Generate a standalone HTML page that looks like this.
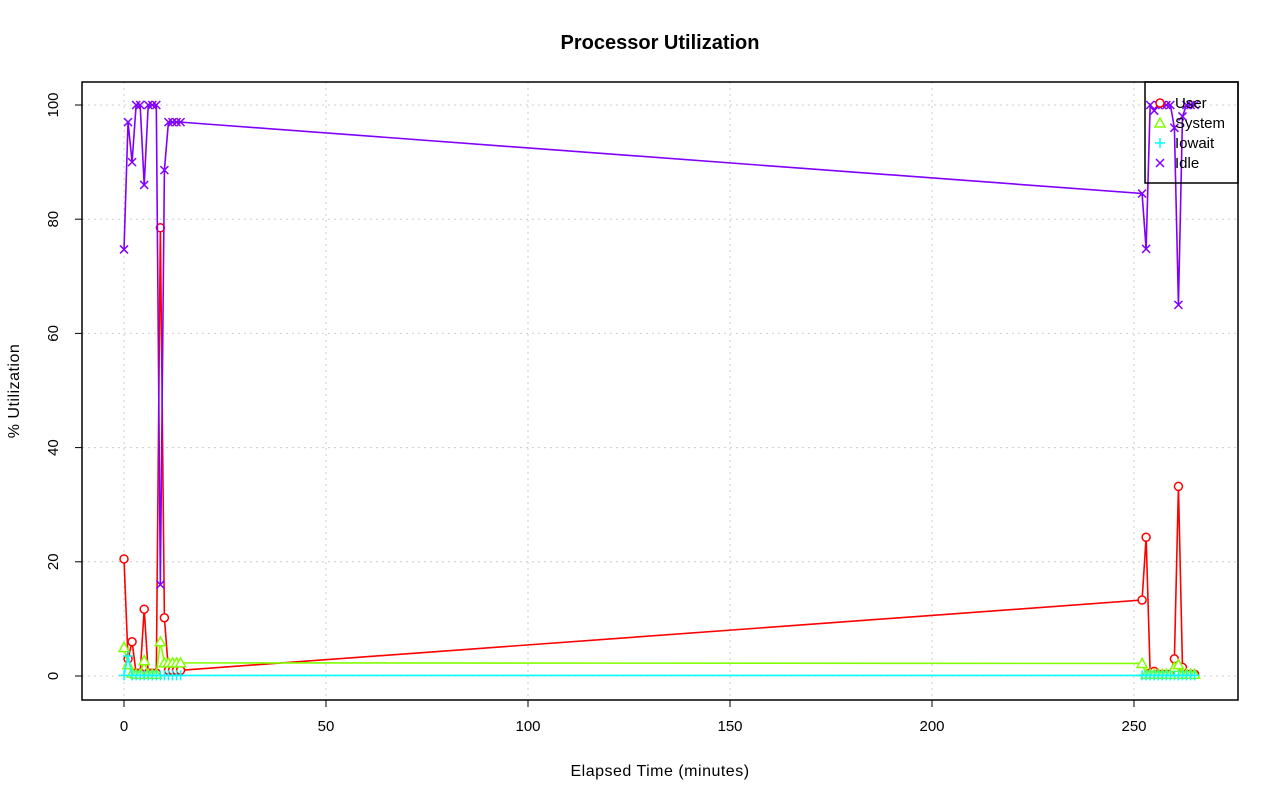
<!DOCTYPE html>
<html><head><style>body{margin:0;background:#fff}svg{display:block;font-family:"Liberation Sans",sans-serif}</style></head>
<body>
<svg id="s" width="1280" height="801" xmlns="http://www.w3.org/2000/svg">
<rect width="1280" height="801" fill="#fff"/>
<text x="660" y="49" font-size="20" font-weight="bold" text-anchor="middle">Processor Utilization</text>
<text x="660" y="776" font-size="16" letter-spacing="0.5" text-anchor="middle">Elapsed Time (minutes)</text>
<text transform="translate(19,391) rotate(-90)" font-size="16" letter-spacing="0.5" text-anchor="middle">% Utilization</text>
<g id="g"></g>
<rect x="82" y="82" width="1156" height="618" fill="none" stroke="#000" stroke-width="1.5"/>
</svg>
<script>
var ns="http://www.w3.org/2000/svg",g=document.getElementById('g');
function X(m){return 124+m*4.04}function Y(v){return 676-v*5.71}
function el(t,a,txt){var e=document.createElementNS(ns,t);for(var k in a)e.setAttribute(k,a[k]);if(txt!=null)e.textContent=txt;g.appendChild(e);return e}
[0,50,100,150,200,250].forEach(function(m){el('line',{x1:X(m),x2:X(m),y1:82,y2:700,stroke:'#ccc','stroke-dasharray':'2,4'});
el('line',{x1:X(m),x2:X(m),y1:700,y2:707,stroke:'#000'});el('text',{x:X(m),y:731,'font-size':15,'text-anchor':'middle'},m)});
el('line',{x1:X(0),x2:X(250),y1:700,y2:700,stroke:'#000'});
[0,20,40,60,80,100].forEach(function(v){el('line',{x1:82,x2:1238,y1:Y(v),y2:Y(v),stroke:'#ccc','stroke-dasharray':'2,4'});
el('line',{x1:75,x2:82,y1:Y(v),y2:Y(v),stroke:'#000'});el('text',{x:0,y:0,'font-size':15,'text-anchor':'middle',transform:'translate(58,'+Y(v)+') rotate(-90)'},v)});
el('line',{x1:82,x2:82,y1:Y(0),y2:Y(100),stroke:'#000'});
var mins=[0,1,2,3,4,5,6,7,8,9,10,11,12,13,14,252,253,254,255,256,257,258,259,260,261,262,263,264,265];
var idle=[74.7,97,90,100,100,86,100,100,100,16,88.6,97,97,97,97,84.5,74.8,100,99,100,100,100,100,96,65,98,100,100,100];
var user=[20.5,3,6,0.5,0.5,11.7,0.5,0.5,0.5,78.5,10.2,1,1,1,1,13.3,24.3,0.5,0.8,0.3,0.3,0.3,0.3,3,33.2,1.5,0.3,0.3,0.3];
var sys=[5,2,0.5,0.3,0.3,2.7,0.3,0.3,0.3,6,2.3,2.3,2.3,2.3,2.3,2.2,0.3,0.3,0.3,0.3,0.3,0.3,0.3,1.5,2,0.3,0.3,0.3,0.3];
var io=mins.map(function(m,i){return i==1?3.5:0.1});
function series(d,c,sym){var p=mins.map(function(m,i){return X(m)+','+Y(d[i])}).join(' ');
el('polyline',{points:p,fill:'none',stroke:c,'stroke-width':1.6});
mins.forEach(function(m,i){mark(X(m),Y(d[i]),c,sym)})}
function mark(x,y,c,sym){
if(sym=='o')el('circle',{cx:x,cy:y,r:4,fill:'#fff',stroke:c,'stroke-width':1.5});
if(sym=='t')el('polygon',{points:(x-5)+','+(y+4)+' '+(x+5)+','+(y+4)+' '+x+','+(y-5),fill:'#fff',stroke:c,'stroke-width':1.5});
if(sym=='+'){el('path',{d:'M'+(x-5)+' '+y+'H'+(x+5)+'M'+x+' '+(y-5)+'V'+(y+5),stroke:c,'stroke-width':1.5})}
if(sym=='x'){el('path',{d:'M'+(x-4)+' '+(y-4)+'L'+(x+4)+' '+(y+4)+'M'+(x+4)+' '+(y-4)+'L'+(x-4)+' '+(y+4),stroke:c,'stroke-width':1.5})}}
series(user,'#ff0000','o');series(sys,'#80ff00','t');series(io,'#00ffff','+');series(idle,'#8000ff','x');
el('rect',{x:1145,y:82,width:93,height:101,fill:'none',stroke:'#000','stroke-width':1.5});
[['User','#ff0000','o'],['System','#80ff00','t'],['Iowait','#00ffff','+'],['Idle','#8000ff','x']].forEach(function(l,i){
mark(1160,103+i*20,l[1],l[2]);el('text',{x:1175,y:108+i*20,'font-size':15},l[0])});
</script>
</body></html>
